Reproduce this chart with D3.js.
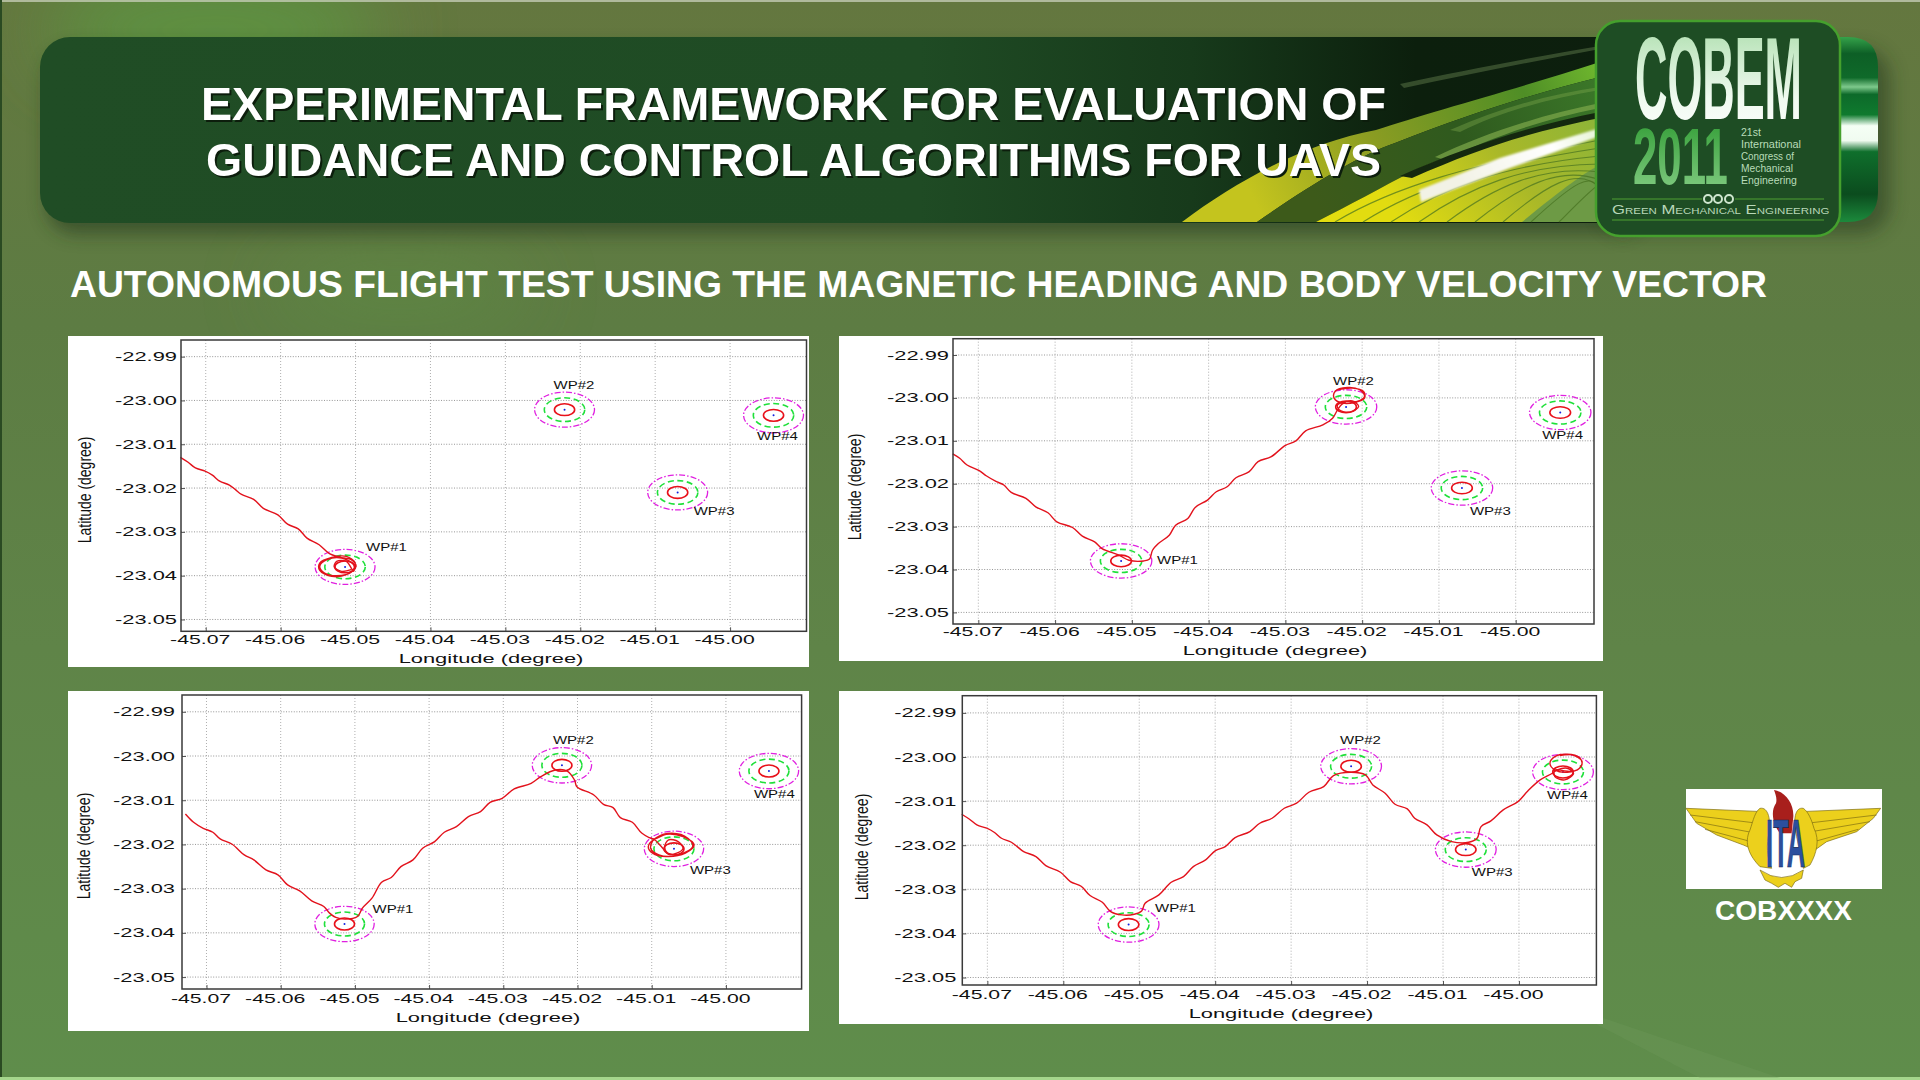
<!DOCTYPE html>
<html><head><meta charset="utf-8">
<script src="https://cdn.jsdelivr.net/npm/d3@7/dist/d3.min.js"></script>
<style>
html,body{margin:0;padding:0;background:#5f8548;overflow:hidden}
svg{display:block}
text{font-family:"Liberation Sans",Arial,sans-serif}
</style></head><body>
<svg id="c" width="1920" height="1080"></svg>
<script>
// ---------- chart data ----------
const lonTicks = [-45.07,-45.06,-45.05,-45.04,-45.03,-45.02,-45.01,-45.00];
const latTicks = [-22.99,-23.00,-23.01,-23.02,-23.03,-23.04,-23.05];
const lonDomain = [-45.0733,-44.9898];
const latDomain = [-23.0527,-22.9862];
const latDomainLast = [-23.0517,-22.9861];
const wpNames = ["WP#1","WP#2","WP#3","WP#4"];
const wpLon = [-45.0514,-45.0221,-45.0070,-44.9942];
const wpLat = [-23.0380,-23.0021,-23.0210,-23.0034];
const ringRadii = [0.00135,0.0027,0.004];

// common first leg of the flight
const approachLon = [-45.07338,-45.07235,-45.07138,-45.07008,-45.06911,-45.06814,-45.06684,-45.06607,-45.06522,-45.06360,-45.06231,-45.06037,-45.05907,-45.05765,-45.05648,-45.05486];
const approachLat = [-23.01298,-23.01411,-23.01540,-23.01615,-23.01706,-23.01842,-23.01933,-23.02031,-23.02145,-23.02258,-23.02462,-23.02613,-23.02825,-23.02931,-23.03142,-23.03294];

// panel 1 : loiter at WP#1
const orbit1Lon = [-45.05349,-45.05220,-45.05058,-45.04993,-45.05123,-45.05317,-45.05478,-45.05478,-45.05317,-45.05123,-45.05006,-45.05058,-45.05252,-45.05414,-45.05478,-45.05381,-45.05187,-45.05026,-45.05026,-45.05123,-45.05252,-45.05284,-45.05187,-45.05058];
const orbit1Lat = [-23.03499,-23.03575,-23.03636,-23.03787,-23.03977,-23.04015,-23.03878,-23.03711,-23.03583,-23.03560,-23.03711,-23.03924,-23.04000,-23.03939,-23.03787,-23.03636,-23.03598,-23.03749,-23.03901,-23.03674,-23.03674,-23.03803,-23.03901,-23.03863];

// panel 2 : WP#1 then loiter at WP#2
const flight2Lon = [-45.07333,-45.07243,-45.07147,-45.06988,-45.06892,-45.06764,-45.06668,-45.06572,-45.06380,-45.06252,-45.06093,-45.05977,-45.05773,-45.05645,-45.05485,-45.05389,-45.05166,-45.05038,-45.04846,-45.04769,-45.04731,-45.04654,-45.04513,-45.04430,-45.04271,-45.04175,-45.04015,-45.03900,-45.03759,-45.03644,-45.03471,-45.03356,-45.03184,-45.03005,-45.02864,-45.02736,-45.02512,-45.02385,-45.02321,-45.02257,-45.02129,-45.02046,-45.02161,-45.02301,-45.02321,-45.02193,-45.02065,-45.01969,-45.02033,-45.02193,-45.02353,-45.02365,-45.02257,-45.02097,-45.01969,-45.01982,-45.02129,-45.02321];
const flight2Lat = [-23.01306,-23.01408,-23.01564,-23.01696,-23.01821,-23.01953,-23.02031,-23.02203,-23.02343,-23.02538,-23.02678,-23.02888,-23.03021,-23.03223,-23.03356,-23.03512,-23.03667,-23.03784,-23.03800,-23.03753,-23.03551,-23.03395,-23.03200,-23.02966,-23.02810,-23.02553,-23.02382,-23.02187,-23.02070,-23.01860,-23.01719,-23.01486,-23.01369,-23.01112,-23.01003,-23.00769,-23.00629,-23.00473,-23.00278,-23.00138,-23.00068,-23.00200,-23.00332,-23.00278,-23.00161,-23.00083,-23.00083,-22.99966,-22.99810,-22.99756,-22.99849,-23.00005,-23.00122,-23.00106,-23.00005,-22.99849,-22.99771,-22.99810];

// panel 3 : WP#1, WP#2 then loiter at WP#3
const flight3Lon = [-45.07284,-45.07174,-45.07044,-45.06914,-45.06816,-45.06654,-45.06491,-45.06362,-45.06199,-45.06037,-45.05907,-45.05744,-45.05582,-45.05419,-45.05341,-45.05257,-45.05127,-45.04965,-45.04899,-45.04770,-45.04640,-45.04510,-45.04380,-45.04217,-45.04087,-45.03925,-45.03795,-45.03632,-45.03470,-45.03307,-45.03178,-45.03015,-45.02853,-45.02625,-45.02495,-45.02300,-45.02138,-45.02040,-45.02008,-45.01780,-45.01650,-45.01521,-45.01423,-45.01261,-45.01131,-45.00968,-45.00806,-45.00578,-45.00429,-45.00546,-45.00806,-45.00988,-45.01046,-45.00936,-45.00728,-45.00513,-45.00448,-45.00676,-45.00903,-45.01014,-45.00968,-45.00871,-45.00773,-45.00663,-45.00578,-45.00643,-45.00773,-45.00825,-45.00793,-45.00689];
const flight3Lat = [-23.01311,-23.01499,-23.01635,-23.01725,-23.01876,-23.01996,-23.02237,-23.02350,-23.02576,-23.02689,-23.02915,-23.03050,-23.03276,-23.03404,-23.03554,-23.03652,-23.03690,-23.03630,-23.03442,-23.03216,-23.02854,-23.02749,-23.02501,-23.02350,-23.02086,-23.01936,-23.01725,-23.01597,-23.01371,-23.01258,-23.01048,-23.00957,-23.00746,-23.00619,-23.00468,-23.00317,-23.00340,-23.00543,-23.00694,-23.00882,-23.01093,-23.01168,-23.01394,-23.01499,-23.01748,-23.01876,-23.01770,-23.01823,-23.02011,-23.02199,-23.02275,-23.02199,-23.02049,-23.01846,-23.01748,-23.01861,-23.02049,-23.02252,-23.02237,-23.02086,-23.01898,-23.02049,-23.02222,-23.02199,-23.02086,-23.01936,-23.01898,-23.02049,-23.02184,-23.02237];

// panel 4 : WP#1, WP#2, WP#3 then loiter at WP#4 (continues the common first leg)
const flight4Lon = [-45.05376,-45.05227,-45.05065,-45.04968,-45.04923,-45.04741,-45.04579,-45.04417,-45.04288,-45.04126,-45.03996,-45.03867,-45.03737,-45.03543,-45.03413,-45.03251,-45.03090,-45.02928,-45.02766,-45.02571,-45.02442,-45.02215,-45.02021,-45.01924,-45.01762,-45.01632,-45.01470,-45.01373,-45.01211,-45.01082,-45.00887,-45.00661,-45.00551,-45.00499,-45.00369,-45.00207,-45.00013,-44.99883,-44.99721,-44.99560,-44.99495,-44.99365,-44.99281,-44.99398,-44.99527,-44.99527,-44.99398,-44.99268,-44.99171,-44.99203,-44.99365,-44.99527,-44.99592,-44.99527,-44.99365,-44.99203,-44.99171,-44.99300,-44.99462];
const flight4Lat = [-23.03505,-23.03581,-23.03566,-23.03490,-23.03316,-23.03127,-23.02840,-23.02711,-23.02485,-23.02333,-23.02122,-23.02031,-23.01827,-23.01691,-23.01502,-23.01389,-23.01162,-23.01048,-23.00799,-23.00671,-23.00421,-23.00346,-23.00406,-23.00633,-23.00822,-23.01071,-23.01177,-23.01389,-23.01540,-23.01767,-23.01918,-23.01933,-23.01842,-23.01578,-23.01449,-23.01200,-23.01011,-23.00769,-23.00519,-23.00368,-23.00293,-23.00255,-23.00368,-23.00519,-23.00444,-23.00293,-23.00315,-23.00315,-23.00179,-23.00013,-22.99937,-22.99990,-23.00141,-23.00293,-23.00346,-23.00255,-23.00088,-22.99952,-22.99968];

const titleLines = ["EXPERIMENTAL FRAMEWORK FOR EVALUATION OF","GUIDANCE AND CONTROL ALGORITHMS FOR UAVS"];
const subtitle = "AUTONOMOUS FLIGHT TEST USING THE MAGNETIC HEADING AND BODY VELOCITY VECTOR";
const xAxisTitle = "Longitude (degree)";
const yAxisTitle = "Latitude (degree)";

const flights = [
  {lon:approachLon.concat(orbit1Lon), lat:approachLat.concat(orbit1Lat)},
  {lon:flight2Lon, lat:flight2Lat},
  {lon:flight3Lon, lat:flight3Lat},
  {lon:approachLon.concat(flight4Lon), lat:approachLat.concat(flight4Lat)}
];

// ---------- layout ----------
const layouts = [
 {card:[68,336,741,331], f:{l:181,r:806.5,t:340,b:631.3}, tickBase:13, yGap:4, xt:[491,663], yt:[84,490], dom:latDomain,
  wp:[[21,-16],[-11,-21],[16,23],[-16.5,25]]},
 {card:[839,336,764,325], f:{l:953,r:1594,t:338.7,b:624}, tickBase:12, yGap:4, xt:[1275,655], yt:[854,487], dom:latDomain,
  wp:[[36,3],[-13,-22],[8,27],[-18,27]]},
 {card:[68,691,741,340], f:{l:182,r:801.6,t:695,b:989}, tickBase:14, yGap:7, xt:[488,1022], yt:[83,846], dom:latDomain,
  wp:[[28,-11],[-9,-21],[16,25],[-15,27]]},
 {card:[839,691,764,333], f:{l:962.3,r:1596.4,t:695.7,b:985}, tickBase:14, yGap:6, xt:[1281,1018], yt:[861,847], dom:latDomainLast,
  wp:[[26.5,-13],[-11,-22],[6,26],[-16,27]]}
];

const svg = d3.select("#c");
const defs = svg.append("defs");
function lin(id,x2,y2,stops){
  const g=defs.append("linearGradient").attr("id",id).attr("x1",0).attr("y1",0).attr("x2",x2).attr("y2",y2);
  stops.forEach(s=>g.append("stop").attr("offset",s[0]).attr("stop-color",s[1]).attr("stop-opacity",s[2]===undefined?1:s[2]));
}
lin("bg",0,1,[[0,"#64773f"],[0.3,"#5d7c43"],[0.6,"#5f8448"],[1,"#5f8d4b"]]);
lin("header",1,0,[[0,"#204d25"],[0.55,"#1f4b24"],[0.72,"#173a1b"],[0.86,"#0c1f0d"],[1,"#0d1f0e"]]);
lin("band",1,-0.2,[[0,"#c4c41e"],[0.35,"#8a9c22"],[0.75,"#4f8e26"],[1,"#76c030"]]);
lin("mid",1,-0.2,[[0,"#3d5a1a"],[0.5,"#2f5a1e"],[1,"#3c7a2a"]]);
lin("stripes",1,-0.3,[[0,"#e2dc10"],[0.5,"#a9b828"],[1,"#87b43c"]]);
lin("streak",1,-0.3,[[0,"#f2f2e6"],[0.6,"#fff"],[1,"#dff0c8"]]);
lin("tab",0,1,[[0,"#35a24a"],[0.09,"#0d5f26"],[0.22,"#0f6a2a"],[0.27,"#7ec98c"],[0.31,"#0d6a2a"],[0.42,"#0f7a2e"],[0.48,"#f5fff5"],[0.56,"#f0fbf0"],[0.62,"#0f6f2c"],[0.85,"#0b4c1e"],[1,"#1c8a3c"]]);
lin("cobem",0,1,[[0,"#a5dba5"],[0.65,"#f0faf0"],[1,"#ffffff"]]);
lin("y2011",0,1,[[0,"#2c9a30"],[1,"#8ad08a"]]);
function blurF(id,sd){
  defs.append("filter").attr("id",id).attr("x","-30%").attr("y","-50%").attr("width","160%").attr("height","200%")
    .append("feGaussianBlur").attr("stdDeviation",sd);
}
blurF("blur",9); blurF("soft",1.2); blurF("wide",38);
defs.append("clipPath").attr("id","hclip").append("rect").attr("x",40).attr("y",37).attr("width",1600).attr("height",186).attr("rx",30);

// fit a text to a wanted width by horizontal scaling
function fit(sel,x,y,w){
  const n=sel.node().getComputedTextLength();
  sel.attr("transform",`translate(${x},${y}) scale(${w/n},1)`);
  return sel;
}

// ---------- slide background ----------
svg.append("rect").attr("width",1920).attr("height",1080).attr("fill","url(#bg)");
svg.append("ellipse").attr("cx",215).attr("cy",30).attr("rx",170).attr("ry",60).attr("fill","#5c9a42").attr("opacity",.75).attr("filter","url(#wide)");
svg.append("ellipse").attr("cx",400).attr("cy",290).attr("rx",130).attr("ry",30).attr("fill","#5f9445").attr("opacity",.5).attr("filter","url(#wide)");
svg.append("rect").attr("width",1920).attr("height",2).attr("fill","#c9d0bc").attr("opacity",.75);
svg.append("rect").attr("width",2).attr("height",1080).attr("fill","#2a4a22");
svg.append("rect").attr("y",1077).attr("width",1920).attr("height",3).attr("fill","#a5d68c");
svg.append("path").attr("d","M1550,1000L1700,1078H1780Z").attr("fill","#6f9a5c").attr("opacity",.3);

// ---------- header ----------
svg.append("rect").attr("x",46).attr("y",48).attr("width",1600).attr("height",186).attr("rx",30).attr("fill","#24351c").attr("opacity",.55).attr("filter","url(#blur)");
svg.append("rect").attr("x",1600).attr("y",48).attr("width",290).attr("height",186).attr("rx",30).attr("fill","#24351c").attr("opacity",.5).attr("filter","url(#blur)");
svg.append("path").attr("d","M1800,37H1848Q1878,37 1878,67V192Q1878,222 1848,222H1800Z").attr("fill","url(#tab)");
const hg = svg.append("g").attr("clip-path","url(#hclip)");
hg.append("rect").attr("x",40).attr("y",37).attr("width",1600).attr("height",186).attr("fill","url(#header)");
hg.append("path").attr("d","M1400,84C1465,70 1540,56 1600,46L1600,49C1540,60 1470,74 1404,88Z").attr("fill","#5d7a4a").attr("opacity",.5);
// olive band
hg.append("path").attr("d","M1182,222C1240,178 1310,142 1376,130C1430,112 1520,88 1600,62L1600,77C1540,92 1480,110 1395,143C1360,155 1310,185 1257,222Z").attr("fill","url(#band)");
// darker region between band and streak
hg.append("path").attr("d","M1257,222C1310,185 1360,155 1395,143C1480,110 1540,92 1600,77V116C1540,126 1480,142 1415,170C1380,188 1350,205 1316,222Z").attr("fill","url(#mid)");
hg.append("path").attr("d","M1435,157C1480,135 1540,115 1600,103L1600,108C1540,120 1490,138 1445,160Z").attr("fill","#7ea84a").attr("opacity",.7);
hg.append("path").attr("d","M1450,130C1500,108 1550,94 1600,87L1600,90C1550,98 1500,112 1460,132Z").attr("fill","#7ea84a").attr("opacity",.4);
// stripes below the dark line
hg.append("path").attr("d","M1316,222C1350,205 1380,188 1415,170C1480,142 1540,126 1600,116V222Z").attr("fill","url(#stripes)");
hg.append("path").attr("d","M1522,222C1555,195 1580,175 1600,165V222Z").attr("fill","#6d9a45");
hg.append("path").attr("d","M1400,176C1470,145 1530,126 1600,112L1600,118C1530,132 1480,148 1412,178Z").attr("fill","#14280f");
d3.range(9).forEach(i=>{
  hg.append("path").attr("d",`M${1335+i*28},222C${1395+i*25},186 ${1470+i*18},165 ${1600},${140+i*8}`)
    .attr("fill","none").attr("stroke","#46701f").attr("stroke-width",1.1).attr("opacity",.7);
});
hg.append("path").attr("d","M1419,190L1500,158L1600,128L1600,136L1510,168L1421,202Z").attr("fill","url(#streak)").attr("filter","url(#soft)");

svg.selectAll("text.title").data(titleLines).join("text").attr("class","title")
  .attr("x",(d,i)=>i?206:201).attr("y",(d,i)=>i?176:120)
  .attr("textLength",(d,i)=>i?1175:1185).attr("lengthAdjust","spacingAndGlyphs")
  .attr("font-size",46).attr("font-weight",700).attr("fill","#fff")
  .style("filter","drop-shadow(2px 2px 0.6px #0c1d0c)").text(d=>d);
svg.append("text").attr("x",70).attr("y",297).attr("textLength",1697).attr("lengthAdjust","spacingAndGlyphs")
  .attr("font-size",36).attr("font-weight",700).attr("fill","#fff").text(subtitle);

// ---------- COBEM badge ----------
const narrow="'Liberation Sans Narrow','Liberation Sans'";
const lg = svg.append("g");
lg.append("rect").attr("x",1596).attr("y",21).attr("width",244).attr("height",215).attr("rx",24)
  .attr("fill","#1e4d24").attr("stroke","#45a02d").attr("stroke-width",2.5);
fit(lg.append("text").attr("font-size",117).attr("font-weight",700).attr("fill","url(#cobem)").style("font-family",narrow).text("COBEM"),1635,119,167);
fit(lg.append("text").attr("font-size",80).attr("font-weight",700).attr("fill","url(#y2011)").style("font-family",narrow).text("2011"),1633,184,95);
const congress=["21st","International","Congress of","Mechanical","Engineering"];
const congressLen=[20,60,53,52,56];
const congressY=[136,148,160,172,184];
congress.forEach((t,i)=>{
  fit(lg.append("text").attr("font-size",10.5).attr("fill","#b9dcb9").text(t),1741,congressY[i],congressLen[i]);
});
lg.append("line").attr("x1",1612).attr("x2",1702).attr("y1",199).attr("y2",199).attr("stroke","#4f9f32").attr("stroke-width",1.2);
lg.append("line").attr("x1",1735).attr("x2",1824).attr("y1",199).attr("y2",199).attr("stroke","#4f9f32").attr("stroke-width",1.2);
lg.append("line").attr("x1",1612).attr("x2",1824).attr("y1",220).attr("y2",220).attr("stroke","#4f9f32").attr("stroke-width",1.2);
[1708,1718,1729].forEach(cx=>{
  lg.append("circle").attr("cx",cx).attr("cy",199).attr("r",4).attr("fill","none").attr("stroke","#cfe6cf").attr("stroke-width",2);
});
fit(lg.append("text").attr("font-size",12).attr("fill","#b9d8b9").style("font-variant","small-caps").text("Green Mechanical Engineering"),1612,214,212);

// ---------- ITA emblem ----------
svg.append("rect").attr("x",1686).attr("y",789).attr("width",196).attr("height",100).attr("fill","#fff");
const ita = svg.append("g").attr("transform","translate(1660,770) scale(0.3333)");
const gold="#ecd01c", edge="#7a6a10";
ita.append("path").attr("d","M78,115L312,125C300,160 292,195 285,240L250,225L170,195L110,160Z").attr("fill",gold).attr("stroke",edge).attr("stroke-width",2);
ita.append("path").attr("d","M662,115L420,125C440,160 458,200 465,240L500,215L590,185L640,145Z").attr("fill",gold).attr("stroke",edge).attr("stroke-width",2);
["M90,135L295,160","M105,155L290,190","M135,178L285,218"].forEach(d=>ita.append("path").attr("d",d).attr("stroke",edge).attr("stroke-width",2).attr("fill","none"));
["M650,135L440,160","M630,155L455,185","M595,178L462,215"].forEach(d=>ita.append("path").attr("d",d).attr("stroke",edge).attr("stroke-width",2).attr("fill","none"));
ita.append("path").attr("d","M300,115C325,110 335,150 325,200C318,240 325,270 335,295L300,290C270,260 250,220 270,180C280,150 285,125 300,115Z").attr("fill",gold).attr("stroke",edge).attr("stroke-width",2);
ita.append("path").attr("d","M430,115C405,110 398,150 410,200C418,240 425,270 430,295L450,285C470,250 480,210 462,175C455,150 445,125 430,115Z").attr("fill",gold).attr("stroke",edge).attr("stroke-width",2);
ita.append("path").attr("d","M300,300Q365,345 430,300L425,325L405,335L395,352L375,340L355,352L335,340L315,330Z").attr("fill",gold).attr("stroke",edge).attr("stroke-width",2);
ita.append("path").attr("d","M342,60C375,65 402,100 400,140L395,190L360,190C340,165 330,125 348,100C352,85 346,72 342,60Z").attr("fill","#a81f1c");
fit(ita.append("text").attr("font-size",205).attr("font-weight",700).attr("fill","#2b4f9e").attr("stroke","#16264f").attr("stroke-width",2).style("font-family",narrow).text("ITA"),318,292,118);
svg.append("text").attr("x",1715).attr("y",920).attr("textLength",137).attr("lengthAdjust","spacingAndGlyphs")
  .attr("font-size",28).attr("font-weight",700).attr("fill","#fff").text("COBXXXX");

// ---------- the four maps ----------
const ringStyles = [
  {stroke:"#e8101a",dash:null,w:1.6},
  {stroke:"#1fe03a",dash:"6,3.5",w:1.6},
  {stroke:"#e020e0",dash:"6,2,1.5,2",w:1.3}
];
layouts.forEach((L,pi)=>{
  const f=L.f;
  const g=svg.append("g");
  g.append("rect").attr("x",L.card[0]).attr("y",L.card[1]).attr("width",L.card[2]).attr("height",L.card[3]).attr("fill","#fff");
  const x=d3.scaleLinear().domain(lonDomain).range([f.l,f.r]);
  const y=d3.scaleLinear().domain(L.dom).range([f.b,f.t]);

  // grid
  g.append("g").selectAll("line").data(lonTicks).join("line")
    .attr("x1",d=>x(d)).attr("x2",d=>x(d)).attr("y1",f.t).attr("y2",f.b)
    .attr("stroke","#9a9a9a").attr("stroke-width",.8).attr("stroke-dasharray","1,2");
  g.append("g").selectAll("line").data(latTicks).join("line")
    .attr("y1",d=>y(d)).attr("y2",d=>y(d)).attr("x1",f.l).attr("x2",f.r)
    .attr("stroke","#8a8a8a").attr("stroke-width",.9).attr("stroke-dasharray","1,1.6");

  // axes
  const ax=g.append("g").attr("transform",`translate(0,${f.b})`)
    .call(d3.axisBottom(x).tickValues(lonTicks).tickSize(-4).tickFormat(d=>d.toFixed(2)));
  ax.select(".domain").remove();
  ax.selectAll("line").attr("stroke","#555");
  ax.selectAll("text").attr("y",L.tickBase).attr("dy",0).attr("fill","#111")
    .attr("font-size",12.5).attr("transform","translate(-6,0) scale(1.7,1)").style("font-family","'Liberation Sans'");
  const ay=g.append("g").attr("transform",`translate(${f.l},0)`)
    .call(d3.axisLeft(y).tickValues(latTicks).tickSize(-4).tickFormat(d=>d.toFixed(2)));
  ay.select(".domain").remove();
  ay.selectAll("line").attr("stroke","#555");
  ay.selectAll("text").attr("x",-L.yGap/1.75).attr("fill","#111")
    .attr("font-size",12.5).attr("transform","scale(1.75,1)").style("font-family","'Liberation Sans'");

  g.append("text").attr("text-anchor","middle").attr("font-size",12.5).attr("fill","#111")
    .attr("transform",`translate(${L.xt[0]},${L.xt[1]}) scale(1.75,1)`).text(xAxisTitle);
  g.append("text").attr("text-anchor","middle").attr("font-size",14).attr("fill","#111")
    .attr("transform",`translate(${L.yt[0]},${L.yt[1]}) rotate(-90) scale(1,1.35)`).attr("dy","0.35em").text(yAxisTitle);

  // way-points
  wpLon.forEach((lon,i)=>{
    const lat=wpLat[i];
    ringRadii.forEach((r,k)=>{
      const s=ringStyles[k];
      g.append("ellipse").attr("cx",x(lon)).attr("cy",y(lat))
        .attr("rx",x(lon+r)-x(lon)).attr("ry",y(lat-r)-y(lat))
        .attr("fill","none").attr("stroke",s.stroke).attr("stroke-width",s.w).attr("stroke-dasharray",s.dash);
    });
    g.append("circle").attr("cx",x(lon)).attr("cy",y(lat)).attr("r",1).attr("fill","#1020e0");
    g.append("text").attr("font-size",10).attr("fill","#111")
      .attr("transform",`translate(${x(lon)+L.wp[i][0]},${y(lat)+L.wp[i][1]}) scale(1.5,1)`).text(wpNames[i]);
  });

  // flight track
  const pts=d3.zip(flights[pi].lon,flights[pi].lat);
  g.append("path").datum(pts)
    .attr("d",d3.line().x(d=>x(d[0])).y(d=>y(d[1])).curve(d3.curveCatmullRom.alpha(.5)))
    .attr("fill","none").attr("stroke","#e2121c").attr("stroke-width",1.4);

  // frame
  g.append("rect").attr("x",f.l).attr("y",f.t).attr("width",f.r-f.l).attr("height",f.b-f.t)
    .attr("fill","none").attr("stroke","#3a3a3a").attr("stroke-width",1.5);
});
</script>
</body></html>
